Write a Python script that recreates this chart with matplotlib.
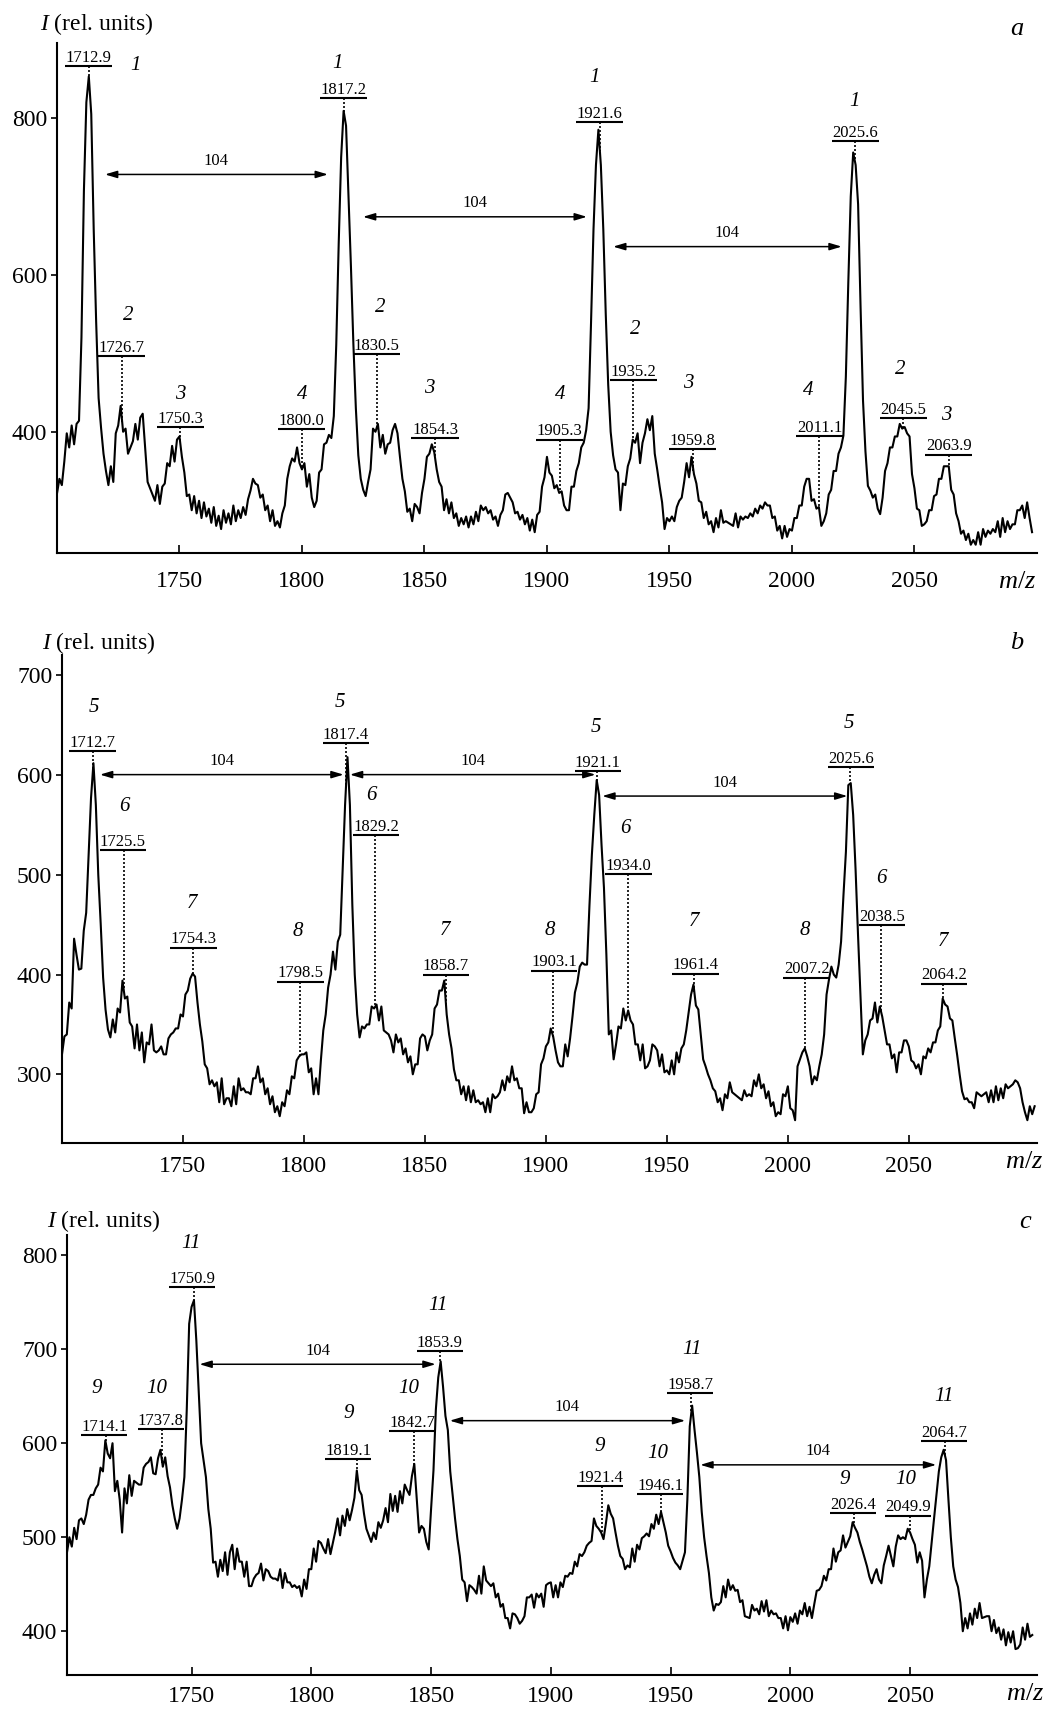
import numpy as np
import matplotlib.pyplot as plt

plt.rcParams['font.family'] = 'Liberation Serif'
plt.rcParams['mathtext.fontset'] = 'custom'
plt.rcParams['mathtext.rm'] = 'Liberation Serif'
plt.rcParams['mathtext.it'] = 'Liberation Serif:italic'

# ---- spectrum a (m/z from 1700, step 1) ----
mz0_a = 1700
int_a = [
    321, 340, 332, 362, 398, 380, 408, 384, 410, 414,
    520, 707, 820, 853, 805, 658, 540, 443, 405, 372,
    350, 332, 356, 336, 398, 408, 433, 400, 404, 372,
    380, 388, 410, 390, 418, 423, 380, 336, 328, 320,
    312, 332, 308, 330, 334, 360, 356, 382, 362, 390,
    394, 368, 348, 318, 320, 300, 318, 296, 312, 290,
    310, 292, 302, 284, 304, 280, 293, 276, 300, 284,
    296, 282, 306, 286, 300, 290, 304, 294, 314, 325,
    340, 334, 332, 316, 320, 300, 306, 286, 300, 280,
    286, 278, 296, 306, 340, 356, 366, 362, 380, 360,
    352, 360, 330, 346, 316, 304, 312, 348, 352, 384,
    386, 396, 392, 420, 511, 640, 750, 809, 790, 700,
    610, 511, 430, 370, 340, 326, 318, 336, 352, 404,
    400, 410, 380, 396, 372, 384, 386, 402, 410, 398,
    368, 340, 324, 298, 302, 286, 308, 304, 296, 322,
    340, 368, 372, 384, 374, 352, 336, 330, 300, 314,
    296, 310, 290, 296, 280, 290, 282, 292, 278, 292,
    282, 298, 286, 306, 300, 304, 296, 300, 288, 292,
    280, 294, 300, 320, 322, 316, 310, 296, 298, 288,
    294, 282, 290, 274, 288, 272, 294, 298, 330, 342,
    368, 348, 344, 328, 332, 322, 324, 306, 300, 300,
    330, 330, 350, 360, 380, 386, 402, 430, 540, 658,
    740, 785, 740, 658, 550, 460, 400, 370, 352, 348,
    300, 334, 332, 356, 366, 390, 386, 398, 360, 386,
    398, 416, 402, 420, 372, 352, 330, 310, 276, 290,
    286, 292, 286, 304, 312, 316, 336, 360, 342, 368,
    346, 334, 312, 310, 290, 298, 282, 286, 272, 290,
    278, 300, 284, 286, 284, 282, 280, 296, 278, 292,
    288, 292, 290, 296, 292, 302, 296, 306, 302, 310,
    306, 306, 290, 292, 274, 280, 264, 280, 266, 276,
    274, 290, 290, 306, 306, 330, 340, 340, 312, 314,
    302, 304, 280, 286, 296, 320, 326, 350, 350, 372,
    380, 395, 470, 590, 700, 756, 740, 690, 560, 440,
    375, 331, 325, 316, 320, 302, 295, 316, 350, 360,
    380, 380, 394, 394, 410, 404, 406, 398, 394, 346,
    328, 302, 300, 280, 282, 286, 300, 300, 318, 320,
    340, 340, 356, 356, 356, 326, 320, 296, 286, 270,
    274, 262, 270, 256, 262, 256, 272, 256, 276, 266,
    274, 270, 276, 272, 286, 266, 290, 272, 286, 276,
    282, 282, 300, 300, 306, 290, 310, 290, 272,
]
peaks_a = [1712.9, 1817.2, 1921.6, 2025.6, 1726.7, 1830.5, 1935.2, 2045.5,
           1750.3, 1854.3, 1959.8, 2063.9, 1800.0, 1905.3, 2011.1]
ids_a = ['1', '1', '1', '1', '2', '2', '2', '2', '3', '3', '3', '3', '4', '4', '4']

# ---- spectrum b ----
mz0_b = 1700
int_b = [
    320, 338, 340, 372, 366, 436, 420, 405, 406, 444,
    462, 520, 577, 612, 570, 500, 451, 397, 365, 345,
    337, 355, 342, 366, 362, 394, 376, 378, 352, 348,
    326, 350, 324, 342, 312, 332, 330, 350, 324, 322,
    324, 328, 320, 320, 336, 340, 342, 346, 346, 360,
    358, 380, 384, 396, 401, 398, 372, 350, 333, 310,
    306, 290, 294, 288, 292, 272, 296, 270, 276, 276,
    268, 288, 270, 296, 284, 286, 282, 282, 280, 296,
    296, 308, 292, 296, 280, 286, 270, 278, 262, 268,
    258, 272, 268, 284, 280, 298, 296, 314, 318, 320,
    320, 322, 302, 306, 280, 296, 280, 314, 344, 360,
    387, 400, 423, 405, 433, 440, 505, 570, 618, 570,
    470, 400, 360, 337, 348, 346, 350, 350, 368, 366,
    370, 354, 368, 344, 342, 340, 334, 322, 340, 332,
    336, 320, 326, 312, 318, 300, 310, 310, 336, 340,
    338, 324, 334, 340, 366, 370, 384, 384, 394, 360,
    340, 326, 305, 294, 294, 280, 288, 274, 288, 272,
    284, 272, 274, 270, 272, 262, 276, 262, 280, 276,
    278, 282, 294, 284, 298, 292, 308, 294, 296, 286,
    286, 261, 272, 262, 262, 266, 280, 282, 310, 316,
    328, 332, 346, 338, 324, 312, 308, 308, 330, 318,
    336, 358, 382, 392, 408, 412, 410, 410, 469, 520,
    560, 595, 580, 530, 487, 420, 340, 344, 315, 330,
    348, 346, 366, 354, 364, 354, 350, 330, 330, 314,
    330, 306, 308, 314, 330, 328, 324, 308, 320, 302,
    304, 300, 314, 300, 322, 312, 326, 330, 344, 362,
    380, 390, 369, 365, 340, 315, 308, 300, 294, 286,
    283, 272, 276, 264, 280, 276, 292, 282, 280, 278,
    276, 274, 284, 278, 280, 278, 294, 288, 300, 286,
    290, 276, 283, 268, 272, 258, 262, 260, 280, 278,
    288, 266, 264, 254, 308, 315, 322, 326, 318, 308,
    290, 298, 294, 308, 320, 340, 380, 395, 408, 400,
    397, 410, 433, 480, 523, 590, 592, 560, 505, 440,
    380, 320, 334, 340, 354, 356, 372, 352, 368, 358,
    344, 330, 330, 316, 320, 302, 322, 322, 334, 334,
    328, 314, 312, 306, 310, 300, 318, 316, 326, 322,
    332, 332, 344, 348, 376, 370, 368, 356, 354, 336,
    319, 300, 283, 275, 276, 272, 272, 266, 282, 280,
    278, 280, 282, 272, 284, 272, 288, 274, 286, 276,
    290, 286, 288, 290, 294, 292, 286, 272, 262, 254,
    268, 260, 268,
]
peaks_b = [1712.7, 1817.4, 1921.1, 2025.6, 1725.5, 1829.2, 1934.0, 2038.5,
           1754.3, 1858.7, 1961.4, 2064.2, 1798.5, 1903.1, 2007.2]
ids_b = ['5', '5', '5', '5', '6', '6', '6', '6', '7', '7', '7', '7', '8', '8', '8']

# ---- spectrum c (m/z from 1698) ----
mz0_c = 1698
int_c = [
    484, 500,
    490, 510, 498, 518, 520, 514, 524, 540, 545, 545,
    552, 556, 574, 570, 603, 589, 584, 600, 549, 560,
    540, 505, 552, 536, 566, 544, 560, 558, 556, 556,
    574, 578, 580, 585, 568, 567, 584, 593, 575, 585,
    565, 553, 534, 520, 509, 520, 540, 564, 636, 727,
    745, 752, 709, 654, 600, 582, 564, 530, 509, 473,
    474, 458, 476, 464, 484, 460, 484, 492, 466, 488,
    474, 474, 458, 474, 448, 448, 456, 460, 462, 472,
    454, 466, 464, 458, 456, 456, 454, 466, 446, 462,
    452, 452, 447, 449, 446, 448, 437, 455, 445, 466,
    466, 488, 474, 496, 494, 488, 483, 498, 482, 494,
    506, 520, 502, 523, 512, 530, 518, 529, 542, 571,
    550, 545, 525, 509, 502, 495, 505, 498, 516, 510,
    518, 531, 516, 546, 528, 544, 527, 549, 536, 556,
    550, 545, 565, 578, 542, 505, 512, 509, 495, 487,
    530, 571, 636, 670, 687, 660, 629, 614, 570, 545,
    520, 498, 480, 455, 452, 432, 449, 447, 444, 440,
    459, 440, 469, 454, 451, 448, 451, 436, 440, 426,
    429, 414, 414, 403, 419, 418, 414, 408, 411, 416,
    436, 436, 439, 425, 440, 436, 440, 426, 449, 451,
    452, 436, 449, 436, 452, 447, 459, 458, 462, 461,
    474, 469, 482, 480, 484, 491, 494, 496, 520, 512,
    509, 505, 498, 515, 534, 525, 520, 505, 491, 480,
    477, 466, 470, 468, 488, 474, 492, 487, 499, 501,
    504, 501, 514, 509, 524, 514, 527, 516, 505, 491,
    485, 478, 473, 470, 466, 475, 484, 540, 618, 640,
    614, 590, 564, 527, 500, 480, 462, 436, 422, 429,
    428, 431, 448, 436, 455, 444, 449, 443, 444, 431,
    433, 416, 415, 414, 428, 422, 424, 418, 432, 421,
    433, 416, 422, 418, 419, 414, 414, 403, 416, 401,
    415, 410, 419, 408, 422, 418, 430, 416, 426, 414,
    429, 443, 444, 448, 459, 454, 466, 466, 488, 474,
    484, 486, 502, 489, 495, 501, 516, 510, 505, 495,
    487, 478, 469, 458, 451, 460, 466, 455, 451, 470,
    480, 491, 480, 469, 490, 502, 498, 500, 498, 509,
    505, 498, 492, 473, 484, 475, 436, 455, 469, 495,
    520, 545, 570, 585, 593, 582, 540, 500, 469, 455,
    447, 430, 400, 414, 403, 419, 407, 424, 414, 430,
    414, 415, 416, 416, 400, 412, 398, 404, 391, 402,
    385, 399, 388, 400, 381, 382, 386, 404, 391, 408,
    394, 396,
]
peaks_c = [1714.1, 1819.1, 1921.4, 2026.4, 1737.8, 1842.7, 1946.1, 2049.9,
           1750.9, 1853.9, 1958.7, 2064.7]
ids_c = ['9', '9', '9', '9', '10', '10', '10', '10', '11', '11', '11', '11']

xticks = [1750, 1800, 1850, 1900, 1950, 2000, 2050]

# ---- layout: label underline centre/height, index position, arrows ----
lay_a = dict(
    rect=[0.0544, 0.6764, 0.936, 0.2982], xlim=(1700, 2100), ylim=(245, 895),
    yticks=[400, 600, 800], xpad=13,
    ucx=[1712.9, 1816.9, 1921.5, 2025.9, 1726.2, 1830.5, 1935.3, 2045.6,
         1750.4, 1854.3, 1959.5, 2064.0, 1799.7, 1905.2, 2011.3],
    uy=[866, 825, 795, 771, 496, 499, 466, 417, 406, 392, 378, 371, 403, 390, 395],
    ix=[1732, 1814.7, 1919.6, 2025.7, 1729, 1831.8, 1936, 2044,
        1750.2, 1852, 1957.7, 2063.1, 1800, 1905.3, 2006.7],
    iy=[867, 870, 851, 821, 548, 559, 530, 479, 448, 455, 462, 421, 448, 448, 452],
    arrows=[(1719.6, 1810.6, 728), (1824.9, 1916.3, 674), (1927.0, 2020.3, 636)],
    ylab=(0.0382, 0.9825), letter=('a', 0.9713, 0.9832), mz=(0.9716, 0.6594),
)
lay_b = dict(
    rect=[0.0592, 0.3315, 0.9313, 0.2852], xlim=(1700, 2103), ylim=(231, 720),
    yticks=[300, 400, 500, 600, 700], xpad=9,
    ucx=[1712.55, 1817.4, 1921.45, 2026.0, 1725.15, 1829.8, 1934.1, 2038.95,
         1754.35, 1858.7, 1961.85, 2064.65, 1798.6, 1903.4, 2007.75],
    uy=[624, 632, 604, 608, 525, 540, 501, 450, 427, 400, 401, 391, 393, 404, 397],
    ix=[1713, 1815, 1920.5, 2025.3, 1725.7, 1827.7, 1932.9, 2038.7,
        1753.7, 1858.5, 1961.2, 2064.3, 1797.5, 1901.5, 2007.1],
    iy=[668, 673, 648, 652, 569, 580, 546, 496, 471, 444, 453, 433, 443, 444, 444],
    arrows=[(1715.7, 1816.4, 600.5), (1819.0, 1920.5, 600.5), (1923.3, 2024.6, 579)],
    ylab=(0.0400, 0.6207), letter=('b', 0.9713, 0.624), mz=(0.978, 0.3205),
)
lay_c = dict(
    rect=[0.0640, 0.0205, 0.9265, 0.2570], xlim=(1698, 2103), ylim=(353.5, 821),
    yticks=[400, 500, 600, 700, 800], xpad=8,
    ucx=[1713.5, 1815.5, 1920.5, 2026.1, 1737.15, 1842.2, 1945.6, 2049.3,
         1750.35, 1853.55, 1958.2, 2064.1],
    uy=[609, 583, 554, 526, 615, 613, 546, 523, 766, 698, 653, 602.5],
    ix=[1710.3, 1815.6, 1920.4, 2022.6, 1735.3, 1840.5, 1944.8, 2048,
        1749.8, 1853, 1959, 2064.2],
    iy=[658, 632, 597, 561, 658, 658, 589, 561, 812, 747, 699.5, 650],
    arrows=[(1753.3, 1851.9, 684), (1857.8, 1956.1, 624), (1962.4, 2060.9, 577)],
    ylab=(0.0449, 0.2826), letter=('c', 0.979, 0.2856), mz=(0.979, 0.0095),
)

fig = plt.figure(figsize=(10.47, 17.10), dpi=100)


def draw_panel(mz0, inten, peaks, ids, lay):
    ax = fig.add_axes(lay['rect'])
    x = mz0 + np.arange(len(inten))
    ax.plot(x, inten, color='black', lw=1.5)

    for p, n, cx, u, xi, yi in zip(peaks, ids, lay['ucx'], lay['uy'], lay['ix'], lay['iy']):
        top = np.interp(p, x, inten)
        ax.plot([cx - 9.6, cx + 9.6], [u, u], color='black', lw=1.5, solid_capstyle='butt')
        ax.plot([p, p], [u, top], color='black', lw=1.2, ls=(0, (1.2, 1.2)))
        ax.annotate(f'{p:.1f}', (cx, u), xytext=(0, 3), textcoords='offset points',
                    ha='center', va='baseline', fontsize=12)
        ax.text(xi, yi, n, ha='center', va='center', fontsize=15, style='italic')

    for x0, x1, y in lay['arrows']:
        ax.annotate('', xy=(x1, y), xytext=(x0, y),
                    arrowprops=dict(arrowstyle='<|-|>,head_length=0.6,head_width=0.18',
                                    color='black', lw=1.1, shrinkA=0, shrinkB=0,
                                    mutation_scale=12))
        ax.annotate('104', ((x0 + x1) / 2, y), xytext=(0, 4), textcoords='offset points',
                    ha='center', va='bottom', fontsize=12)

    ax.set_xlim(*lay['xlim'])
    ax.set_ylim(*lay['ylim'])
    ax.set_xticks(xticks)
    ax.set_yticks(lay['yticks'])
    for s in ['top', 'right']:
        ax.spines[s].set_visible(False)
    for s in ['left', 'bottom']:
        ax.spines[s].set_linewidth(1.5)
    ax.tick_params(axis='x', direction='in', length=6, width=1.2, pad=lay['xpad'], labelsize=17)
    ax.tick_params(axis='y', direction='out', length=4, width=1.2, pad=3, labelsize=17)

    fig.text(lay['ylab'][0], lay['ylab'][1], '$I$ (rel. units)', fontsize=17, va='baseline')
    fig.text(lay['letter'][1], lay['letter'][2], lay['letter'][0], fontsize=19,
             style='italic', ha='center', va='center')
    fig.text(lay['mz'][0], lay['mz'][1], '$m/z$', fontsize=19, ha='center', va='center')
    return ax


draw_panel(mz0_a, int_a, peaks_a, ids_a, lay_a)
draw_panel(mz0_b, int_b, peaks_b, ids_b, lay_b)
draw_panel(mz0_c, int_c, peaks_c, ids_c, lay_c)

fig.savefig('out.png', dpi=100)
